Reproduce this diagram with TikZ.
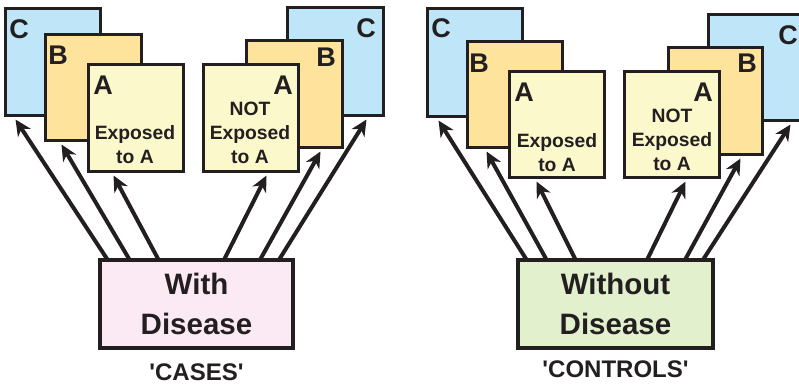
\documentclass[tikz,border=0pt]{standalone}
\usepackage{fontspec}
\setmainfont{Liberation Sans}[BoldFont={Liberation Sans Bold}]
\usetikzlibrary{arrows.meta,calc}
\definecolor{ink}{HTML}{231F20}
\definecolor{cblue}{HTML}{BEE6F8}
\definecolor{borange}{HTML}{FDE39C}
\definecolor{ayellow}{HTML}{FBF8CC}
\definecolor{dpink}{HTML}{FBEAF3}
\definecolor{dgreen}{HTML}{E2F0CD}
\tikzset{
  card/.style={draw=ink, line width=3pt, inner sep=0pt, minimum width=95pt, minimum height=107pt},
  dbox/.style={draw=ink, line width=3.4pt, inner sep=0pt, minimum width=193pt, minimum height=88pt,
     align=center, font=\bfseries\fontsize{29.5}{40}\selectfont, text=ink},
  letter/.style={font=\bfseries\fontsize{27}{27}\selectfont, text=ink, inner sep=0pt},
  small/.style={font=\bfseries\fontsize{19.3}{24}\selectfont, text=ink, inner sep=0pt, align=center},
  grouplabel/.style={font=\bfseries\fontsize{24}{24}\selectfont, text=ink, inner sep=0pt},
  arr/.style={draw=ink, line width=4pt, -{Stealth[length=16pt,width=15pt,inset=5pt]}},
}
\begin{document}
\begin{tikzpicture}[x=1pt,y=-1pt]
\useasboundingbox (0,0) rectangle (799,387);
\clip (0,0) rectangle (799,387);
% ---- left group (cases)
\node[card, fill=cblue] (lc) at (52.5,62.5) {};
\node[card, fill=borange, minimum width=96pt, minimum height=106pt] (lb) at (93,88) {};
\node[card, fill=ayellow] (la) at (135.5,118.5) {};
\node[card, fill=cblue, minimum width=96pt, minimum height=108pt] (lnc) at (335,62) {};
\node[card, fill=borange, minimum width=96pt] (lnb) at (294,94.5) {};
\node[card, fill=ayellow] (lna) at (250.5,118.5) {};
\node[letter] (lcl) at (19,29) {C};
\node[letter] (lbl) at (58,55) {B};
\node[letter] (lal) at (103,85) {A};
\node[small] (lat) at (135,145) {Exposed\\to A};
\node[letter] (lncl) at (366,28) {C};
\node[letter] (lnbl) at (326,57) {B};
\node[letter] (lnal) at (283,85) {A};
\node[small] (lnat) at (250,133) {NOT\\Exposed\\to A};
\node[dbox, fill=dpink] (cases) at (196.5,304) {With\\Disease};
\node[grouplabel] (casesl) at (196.5,372) {\textquotesingle CASES\textquotesingle};
% ---- right group (controls)
\node[card, fill=cblue, minimum height=108pt] (rc) at (474.5,63) {};
\node[card, fill=borange, minimum height=106pt] (rb) at (514.5,95) {};
\node[card, fill=ayellow, minimum height=106pt] (ra) at (556.5,125) {};
\node[card, fill=cblue, minimum height=106pt] (rnc) at (755.5,68) {};
\node[card, fill=borange, minimum width=94pt] (rnb) at (715,101.5) {};
\node[card, fill=ayellow, minimum height=106pt] (rna) at (671.5,125) {};
\node[letter] (rcl) at (441,28) {C};
\node[letter] (rbl) at (479,63) {B};
\node[letter] (ral) at (524,92) {A};
\node[small] (rat) at (557,153) {Exposed\\to A};
\node[letter] (rncl) at (788,35) {C};
\node[letter] (rnbl) at (747,63) {B};
\node[letter] (rnal) at (703,92) {A};
\node[small] (rnat) at (672,140) {NOT\\Exposed\\to A};
\node[dbox, fill=dgreen, minimum width=195pt] (controls) at (615.5,304) {Without\\Disease};
\node[grouplabel] (controlsl) at (615.5,369) {\textquotesingle CONTROLS\textquotesingle};
% ---- arrows
\draw[arr] ($(cases.north west)+(9,1)$) -- ($(lc.south west)+(12,2)$);
\draw[arr] ($(cases.north west)+(31,1)$) -- ($(lb.south west)+(18,2)$);
\draw[arr] ($(cases.north west)+(60,1)$) -- ($(la.south west)+(27,2)$);
\draw[arr] ($(cases.north west)+(126,1)$) -- ($(lna.south west)+(65,2)$);
\draw[arr] ($(cases.north west)+(162,1)$) -- ($(lnb.south west)+(76,2)$);
\draw[arr] ($(cases.north west)+(181,1)$) -- ($(lnc.south west)+(81,2)$);
\draw[arr] ($(controls.north west)+(10,1)$) -- ($(rc.south west)+(13,2)$);
\draw[arr] ($(controls.north west)+(30,1)$) -- ($(rb.south west)+(21,2)$);
\draw[arr] ($(controls.north west)+(59,1)$) -- ($(ra.south west)+(29,2)$);
\draw[arr] ($(controls.north west)+(131,1)$) -- ($(rna.south west)+(63,2)$);
\draw[arr] ($(controls.north west)+(169,1)$) -- ($(rnb.south west)+(74,2)$);
\draw[arr] ($(controls.north west)+(187,1)$) -- ($(rnc.south west)+(84,2)$);
\end{tikzpicture}
\end{document}
